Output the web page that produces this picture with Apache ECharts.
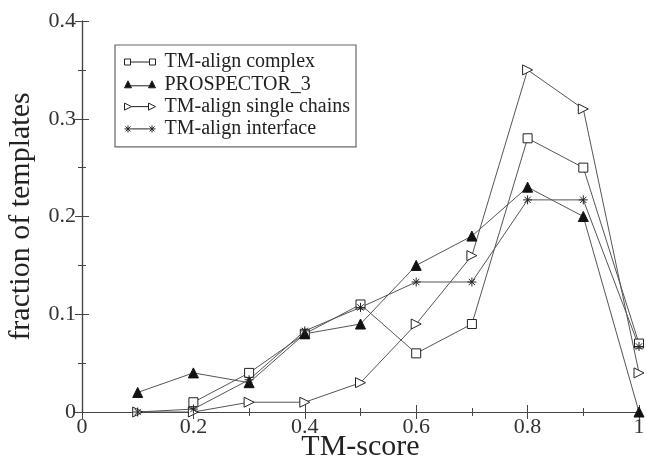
<!DOCTYPE html>
<html><head><meta charset="utf-8">
<script src="https://cdn.jsdelivr.net/npm/echarts@6/dist/echarts.min.js"></script>
<style>html,body{margin:0;padding:0;background:#fff}#c{width:646px;height:463px}</style>
</head><body><div id="c"></div>
<script>
const tmScores = [0.1,0.2,0.3,0.4,0.5,0.6,0.7,0.8,0.9,1.0];
const tmAlignComplex = [null,0.01,0.04,0.08,0.11,0.06,0.09,0.28,0.25,0.07];
const prospector3 = [0.02,0.04,0.03,0.08,0.09,0.15,0.18,0.23,0.20,0.0];
const tmAlignSingle = [0.0,0.0,0.01,0.01,0.03,0.09,0.16,0.35,0.31,0.04];
const tmAlignInterface = [0.0,0.003,0.033,0.083,0.107,0.133,0.133,0.217,0.217,0.067];
const seriesNames = ['TM-align complex','PROSPECTOR_3','TM-align single chains','TM-align interface'];
const xTickLabels = ['0','0.2','0.4','0.6','0.8','1'];
const yTickLabels = ['0','0.1','0.2','0.3','0.4'];

const font = '"Liberation Serif","Times New Roman","DejaVu Serif",serif';
const lineColor = '#555';
function pairs(arr){ return tmScores.map((x,i)=>[x,arr[i]]).filter(p=>p[1]!==null); }
const star = 'path://M0,5L10,5M5,0L5,10M1.5,1.5L8.5,8.5M8.5,1.5L1.5,8.5';
const styles = [
  {symbol:'rect', size:9, item:{color:'#fff', borderColor:'#222', borderWidth:1},
   icon:'path://M0,1h6v6h-6ZM6,4H25M25,1h6v6h-6Z'},
  {symbol:'triangle', size:10, item:{color:'#111', borderColor:'#111', borderWidth:1},
   icon:'path://M0,8L3.5,1L7,8ZM5,6H26M24,8L27.5,1L31,8Z'},
  {symbol:'triangle', size:10, rotate:-90, item:{color:'#fff', borderColor:'#222', borderWidth:1},
   icon:'path://M0,1L7,4.5L0,8ZM7,4.5H24M24,1L31,4.5L24,8Z'},
  {symbol:star, size:9, item:{color:'none', borderColor:'#222', borderWidth:1},
   icon:'path://M0,4.5H7M3.5,1V8M1,2L6,7M6,2L1,7M7,4.5H24M24,4.5H31M27.5,1V8M25,2L30,7M30,2L25,7'}
];
const allData = [tmAlignComplex, prospector3, tmAlignSingle, tmAlignInterface];
const series = allData.map((d,i)=>({
  name: seriesNames[i], type:'line', data: pairs(d),
  symbol: styles[i].symbol, symbolSize: styles[i].size, symbolRotate: styles[i].rotate||0,
  showAllSymbol:true,
  lineStyle:{color:lineColor, width:1}, itemStyle: styles[i].item,
  xAxisIndex:0, yAxisIndex:0, z: 3
}));
const legendData = seriesNames.map((n,i)=>({
  name:n, icon:styles[i].icon,
  itemStyle:{color: styles[i].item.color, borderColor:'#222', borderWidth:1}
}));

const axisCommon = {
  axisLine:{show:true, lineStyle:{color:'#444', width:1.2}},
  axisTick:{show:true, inside:true, length:7, lineStyle:{color:'#444'}},
  minorTick:{show:true, splitNumber:2, length:4, lineStyle:{color:'#444'}},
  splitLine:{show:false}
};
const chart = echarts.init(document.getElementById('c'));
chart.setOption({
  backgroundColor:'#fff',
  animation:false,
  grid:{left:82, right:7, top:21, bottom:51, containLabel:false, outerBoundsMode:'none'},
  legend:{
    show:true, data:legendData, orient:'vertical', left:115, top:45,
    itemWidth:31, itemHeight:8, itemGap:2.3,
    borderColor:'#666', borderWidth:1.2, padding:[7,6,8,7],
    textStyle:{fontFamily:font, fontSize:20, color:'#222', lineHeight:20, padding:[0,0,0,4]},
    backgroundColor:'#fff'
  },
  xAxis:[
    Object.assign({type:'value', min:0, max:1, interval:0.2, position:'bottom',
      name:'TM-score', nameLocation:'middle', nameGap:20, nameMoveOverlap:false,
      nameTextStyle:{fontFamily:font, fontSize:30, color:'#222', verticalAlign:'top'},
      axisLabel:{fontFamily:font, fontSize:22, color:'#333', margin:4,
        formatter:(v)=>xTickLabels[Math.round(v/0.2)]}}, axisCommon),
    Object.assign({type:'value', min:0, max:1, interval:0.2, position:'top',
      axisLabel:{show:false}}, axisCommon)
  ],
  yAxis:[
    Object.assign({type:'value', min:0, max:0.4, interval:0.1, position:'left',
      name:'fraction of templates', nameLocation:'middle', nameGap:46, nameMoveOverlap:false,
      nameTextStyle:{fontFamily:font, fontSize:30, color:'#222'},
      axisLabel:{fontFamily:font, fontSize:22, color:'#333', margin:6,
        formatter:(v)=>yTickLabels[Math.round(v/0.1)]}}, axisCommon),
    Object.assign({type:'value', min:0, max:0.4, interval:0.1, position:'right',
      axisLabel:{show:false}}, axisCommon)
  ],
  series: series
});
</script></body></html>
